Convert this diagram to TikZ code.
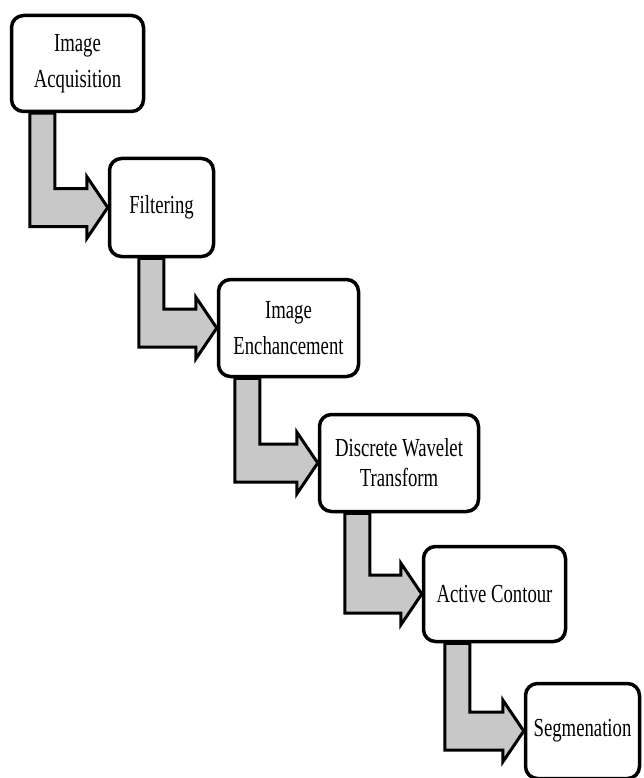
\documentclass[tikz,border=0pt]{standalone}
\usepackage{fontspec}
\setmainfont{Liberation Serif}[FakeStretch=0.72]
\usepackage{tikz}
\usepackage{xcolor}
\usetikzlibrary{calc,backgrounds}
\definecolor{arrowgray}{RGB}{200,200,200}

\begin{document}
\begin{tikzpicture}[
    x=1pt, y=-1pt,
    every node/.style={align=center},
    stage/.style={rectangle, draw, line width=3.5pt, rounded corners=12pt,
                  fill=white, inner sep=2pt,
                  font=\fontsize{26}{36}\selectfont},
    flow/.style={draw, line width=3pt, fill=arrowgray, line join=miter},
]
\useasboundingbox (0,0) rectangle (644,778);

\node [stage, minimum width=132pt, minimum height=96pt] (acq) at (77.5,63.5)
  {Image\\Acquisition};
\node [stage, minimum width=104pt, minimum height=98pt] (filt) at (161.5,207.5)
  {Filtering};
\node [stage, minimum width=140pt, minimum height=97pt] (enh) at (288.5,328)
  {Image\\Enchancement};
\node [stage, minimum width=159pt, minimum height=97pt] (dwt) at (399,463)
  {Discrete Wavelet\\[-6pt]Transform};
\node [stage, minimum width=142pt, minimum height=95pt] (ac) at (494.5,594)
  {Active Contour};
\node [stage, minimum width=114pt, minimum height=95pt] (seg) at (582.5,731)
  {Segmenation};

\begin{scope}[on background layer]
\foreach \a/\b/\s in {acq/filt/20pt, filt/enh/31pt, enh/dwt/18pt,
                      dwt/ac/27pt, ac/seg/23pt} {
  \draw [flow] let \p1=(\a.south west), \p2=(\b.west) in
    (\x1+\s,\y1) -- (\x1+\s,\y2-19pt) -- (\x2-21pt,\y2-19pt)
    -- (\x2-21pt,\y2-31pt) -- (\x2,\y2) -- (\x2-21pt,\y2+31pt)
    -- (\x2-21pt,\y2+19pt) -- (\x1+\s+25pt,\y2+19pt)
    -- (\x1+\s+25pt,\y1) -- cycle;
}
\end{scope}

\end{tikzpicture}
\end{document}
